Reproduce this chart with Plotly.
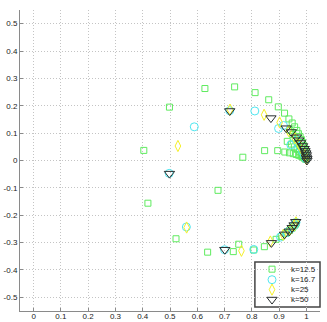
import plotly.graph_objects as go

# k = 12.5 (green squares)
k125_x = [0.498, 0.628, 0.737, 0.812, 0.862, 0.897, 0.920, 0.936, 0.948, 0.957, 0.965, 0.971,
          0.977, 0.982, 0.986, 0.990, 0.993, 0.996, 0.998, 0.999, 1.000,
          0.404, 0.767, 0.847, 0.895, 0.921, 0.938, 0.952, 0.963, 0.972, 0.980, 0.986, 0.991,
          0.995, 0.998,
          0.940, 0.950, 0.960, 0.968, 0.976, 0.983, 0.989, 0.994, 0.997,
          0.930, 0.945, 0.956, 0.966, 0.975, 0.983, 0.990, 0.995,
          0.419, 0.676,
          0.522, 0.638, 0.732, 0.752, 0.807, 0.846, 0.889, 0.908, 0.925, 0.938, 0.948, 0.955,
          0.960, 0.963]
k125_y = [0.195, 0.263, 0.269, 0.248, 0.222, 0.196, 0.173, 0.152, 0.137, 0.123, 0.110, 0.098,
          0.087, 0.076, 0.066, 0.055, 0.045, 0.035, 0.025, 0.015, 0.007,
          0.037, 0.012, 0.036, 0.036, 0.031, 0.028, 0.025, 0.022, 0.019, 0.016, 0.013, 0.010,
          0.007, 0.004,
          0.110, 0.095, 0.080, 0.066, 0.053, 0.040, 0.028, 0.017, 0.008,
          0.070, 0.060, 0.050, 0.041, 0.032, 0.023, 0.015, 0.008,
          -0.156, -0.109,
          -0.286, -0.335, -0.333, -0.306, -0.327, -0.315, -0.288, -0.278, -0.266, -0.256, -0.247,
          -0.239, -0.233, -0.228]

# k = 16.7 (cyan circles)
k167_x = [0.589, 0.719, 0.811, 0.898, 0.916, 0.943, 0.962, 0.975, 0.986, 0.994, 0.999,
          0.497, 0.560, 0.700, 0.807, 0.905, 0.928, 0.945, 0.956, 0.962]
k167_y = [0.123, 0.182, 0.181, 0.117, 0.128, 0.057, 0.075, 0.052, 0.033, 0.018, 0.006,
          -0.047, -0.243, -0.326, -0.325, -0.280, -0.263, -0.248, -0.236, -0.226]

# k = 25 (yellow diamonds)
k25_x = [0.529, 0.720, 0.845, 0.902, 0.935, 0.958, 0.974, 0.986, 0.995, 1.000,
         0.561, 0.762, 0.868, 0.915, 0.940, 0.955, 0.962]
k25_y = [0.053, 0.186, 0.167, 0.139, 0.108, 0.081, 0.058, 0.037, 0.019, 0.005,
         -0.245, -0.330, -0.296, -0.272, -0.253, -0.238, -0.226]

# k = 50 (dark triangles)
k50_x = [0.719, 0.870, 0.926, 0.945, 0.963, 0.972, 0.979, 0.986, 0.992, 0.995, 0.998,
         1.000, 1.000, 1.002, 1.002,
         0.498, 0.701, 0.872, 0.920, 0.937, 0.948, 0.955, 0.961]
k50_y = [0.181, 0.155, 0.118, 0.104, 0.085, 0.074, 0.064, 0.053, 0.043, 0.035, 0.027,
         0.020, 0.012, 0.006, 0.000,
         -0.048, -0.326, -0.301, -0.270, -0.259, -0.246, -0.236, -0.224]

x_ticks = [0, 0.1, 0.2, 0.3, 0.4, 0.5, 0.6, 0.7, 0.8, 0.9, 1]
x_labels = ["0", "0.1", "0.2", "0.3", "0.4", "0.5", "0.6", "0.7", "0.8", "0.9", "1"]
y_ticks = [-0.5, -0.4, -0.3, -0.2, -0.1, 0, 0.1, 0.2, 0.3, 0.4, 0.5]
y_labels = ["-0.5", "-0.4", "-0.3", "-0.2", "-0.1", "0", "0.1", "0.2", "0.3", "0.4", "0.5"]

legend_names = ["k=12.5", "k=16.7", "k=25", "k=50"]

series = [
    (k125_x, k125_y, "square-open", 6, "rgb(95,235,95)"),
    (k167_x, k167_y, "circle-open", 8, "rgb(80,230,240)"),
    (k25_x, k25_y, "diamond-tall-open", 8, "rgb(245,240,40)"),
    (k50_x, k50_y, "triangle-down-open", 9, "rgb(40,45,45)"),
]

FONT = "Liberation Sans, Arial, sans-serif"

fig = go.Figure()
for (xs, ys, sym, size, col), name in zip(series, legend_names):
    fig.add_trace(go.Scatter(
        x=xs, y=ys, mode="markers", name=name, showlegend=False,
        marker=dict(symbol=sym, size=size, color=col, line=dict(color=col, width=1)),
    ))

# compact MATLAB-style legend box, bottom right inside the axes (paper-like overlay axes)
leg_x0, leg_x1, leg_y0, leg_y1 = 0.783, 1.0, 0.013, 0.163
row_y = [0.139, 0.104, 0.071, 0.038]
fig.add_shape(type="rect", xref="paper", yref="paper", x0=leg_x0, x1=leg_x1, y0=leg_y0, y1=leg_y1,
              fillcolor="white", line=dict(color="#444", width=1.5), layer="between")
for (xs, ys, sym, size, col), name, ry in zip(series, legend_names, row_y):
    fig.add_trace(go.Scatter(
        x=[0.84], y=[ry], xaxis="x2", yaxis="y2", mode="markers", showlegend=False,
        hoverinfo="skip",
        marker=dict(symbol=sym, size=size, color=col, line=dict(color=col, width=1)),
    ))
    fig.add_annotation(x=0.895, y=ry, xref="paper", yref="paper", text=name, showarrow=False,
                       xanchor="left", yanchor="middle",
                       font=dict(family=FONT, size=8, color="#222"))

axis_style = dict(
    showgrid=True, gridcolor="#c4c4c4", griddash="1px,2px", gridwidth=1,
    zeroline=False, showline=True, linecolor="#8a8a8a", linewidth=1,
    ticks="inside", ticklen=3, tickcolor="#8a8a8a",
    tickfont=dict(family=FONT, size=8, color="#222"),
    automargin=False,
)
fig.update_xaxes(range=[-0.05, 1.05], tickvals=x_ticks, ticktext=x_labels,
                 ticklabelstandoff=-3, **axis_style)
fig.update_yaxes(range=[-0.55, 0.55], tickvals=y_ticks, ticktext=y_labels, **axis_style)

fig.update_layout(
    width=327, height=322,
    margin=dict(l=20, r=7, t=10, b=11),
    plot_bgcolor="white", paper_bgcolor="white",
    showlegend=False,
    xaxis2=dict(overlaying="x", range=[0, 1], visible=False, fixedrange=True),
    yaxis2=dict(overlaying="y", range=[0, 1], visible=False, fixedrange=True),
)

# the page body has a default 8px margin; drop it so the figure sits at the window origin
fig.write_html("out.html", config={"displayModeBar": False},
               post_script="document.body.style.margin='0';")
